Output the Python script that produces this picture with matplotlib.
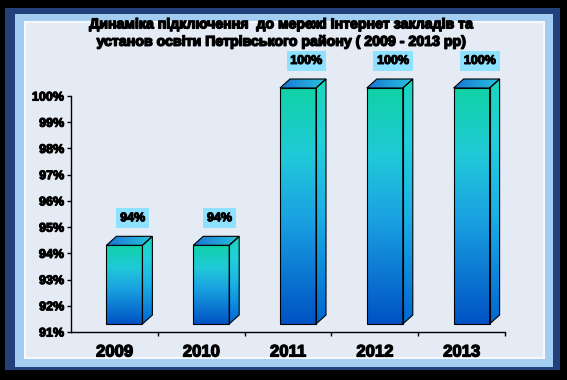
import numpy as np
import matplotlib
matplotlib.use('Agg')
import matplotlib.pyplot as plt
from matplotlib import transforms
from matplotlib.patches import Rectangle, Polygon
from matplotlib.colors import LinearSegmentedColormap
import matplotlib.patheffects as pe

years = ['2009', '2010', '2011', '2012', '2013']
values = [94, 94, 100, 100, 100]
value_labels = ['94%', '94%', '100%', '100%', '100%']
yticks = [91, 92, 93, 94, 95, 96, 97, 98, 99, 100]
ytick_labels = ['91%', '92%', '93%', '94%', '95%', '96%', '97%', '98%', '99%', '100%']
title = ('Динаміка підключення  до мережі Інтернет закладів та\n'
         'установ освіти Петрівського району ( 2009 - 2013 рр)')

W, H = 567, 380
fig = plt.figure(figsize=(5.67, 3.8), dpi=100)
fig.patch.set_facecolor('black')
plt.rcParams['font.family'] = ['Liberation Sans', 'DejaVu Sans']


def frame_rect(x0, y0, x1, y1, **kw):
    fig.patches.append(Rectangle((x0 / W, 1 - y1 / H), (x1 - x0) / W, (y1 - y0) / H,
                                 transform=fig.transFigure, zorder=-5, **kw))


# background frame
frame_rect(5, 8, 560, 370, fc='#22407a', ec='none')
frame_rect(15, 14, 553, 367, fc='#a3cdf0', ec='none')
frame_rect(25, 22, 544, 358, fc='#e4ebf4', ec='#f6f9fd', lw=1.5)

fig.text(281 / W, 1 - 33 / H, title, ha='center', va='center', fontsize=10.2,
         fontweight='bold', linespacing=1.3,
         path_effects=[pe.withStroke(linewidth=1.0, foreground='black')])

ax_l, ax_b, ax_w, ax_h = 71, 48, 434, 236
ax = fig.add_axes([ax_l / W, ax_b / H, ax_w / W, ax_h / H])
ax.patch.set_alpha(0)
base = yticks[0]

# 3d look: bars sit a bit back from the axis front
shift = transforms.ScaledTranslation(10 / 100, 8 / 100, fig.dpi_scale_trans)
tr = ax.transData + shift
px_x = ax_w / len(years)
px_y = ax_h / (yticks[-1] - base)
bw = 36 / px_x
dx = 10 / px_x
dy = 9 / px_y

front_cm = LinearSegmentedColormap.from_list('front', [
    (0.0, '#0052c4'), (0.45, '#1aa2e2'), (0.72, '#20cad8'), (1.0, '#10d2a6')])
side_cm = LinearSegmentedColormap.from_list('side', [
    (0.0, '#0066d2'), (0.45, '#1ab0e6'), (0.75, '#22d0dc'), (1.0, '#18d6bc')])
top_cm = LinearSegmentedColormap.from_list('top', ['#1a74d6', '#28c4dc'])
vgrad = np.linspace(0, 1, 256).reshape(-1, 1)
hgrad = np.linspace(0, 1, 256).reshape(1, -1)


def face(poly, img, cmap, extent):
    patch = Polygon(poly, closed=True, transform=tr, fc='none', ec='black',
                    lw=0.8, zorder=4, clip_on=False)
    ax.add_patch(patch)
    im = ax.imshow(img, cmap=cmap, extent=extent, origin='lower',
                   transform=tr, aspect='auto', zorder=3)
    im.set_clip_box(fig.bbox)
    im.set_clip_path(patch)


for i, v in enumerate(values):
    x0, x1 = i - bw / 2, i + bw / 2
    face([(x0, base), (x1, base), (x1, v), (x0, v)], vgrad, front_cm,
         (x0, x1, base, v))
    face([(x1, base), (x1 + dx, base + dy), (x1 + dx, v + dy), (x1, v)], vgrad, side_cm,
         (x1, x1 + dx, base, v + dy))
    face([(x0, v), (x1, v), (x1 + dx, v + dy), (x0 + dx, v + dy)], hgrad, top_cm,
         (x0, x1 + dx, v, v + dy))

    ax.annotate(value_labels[i], xy=(i, v), xycoords=tr, xytext=(6, 19.5),
                textcoords='offset points', ha='center', va='center', fontsize=9,
                fontweight='bold',
                path_effects=[pe.withStroke(linewidth=0.8, foreground='black')],
                bbox=dict(boxstyle='square,pad=0.3', fc='#8fe2ff', ec='none'),
                annotation_clip=False, zorder=6)

ax.set_xlim(-0.5, len(years) - 0.5)
ax.set_ylim(base, yticks[-1])

for s in ['top', 'right']:
    ax.spines[s].set_visible(False)
for s in ['left', 'bottom']:
    ax.spines[s].set_color('black')
    ax.spines[s].set_linewidth(1)

ax.set_yticks(yticks)
ax.set_yticklabels(ytick_labels, fontsize=9, fontweight='bold')
for t in ax.get_yticklabels():
    t.set_path_effects([pe.withStroke(linewidth=0.8, foreground='black')])
ax.tick_params(axis='y', direction='out', length=3, width=1, pad=2, color='black')

ax.set_xticks(range(len(years)))
ax.set_xticklabels(years, fontsize=12, fontweight='bold')
for t in ax.get_xticklabels():
    t.set_path_effects([pe.withStroke(linewidth=0.9, foreground='black')])
ax.tick_params(axis='x', which='major', length=0, pad=9)
ax.set_xticks(np.arange(len(years)) + 0.5, minor=True)
ax.tick_params(axis='x', which='minor', direction='out', length=3, width=1, color='black')

fig.savefig('out.png', dpi=100, facecolor=fig.get_facecolor())
